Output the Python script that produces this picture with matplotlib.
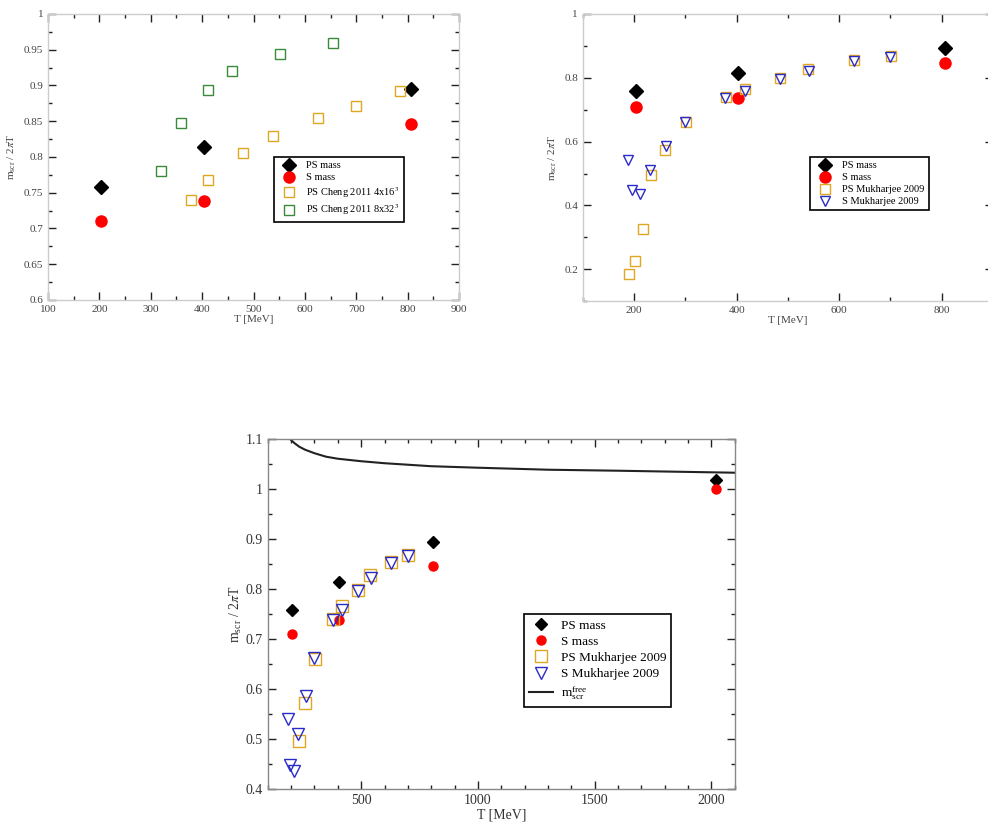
import matplotlib.pyplot as plt
from matplotlib.ticker import MultipleLocator

plt.rcParams['font.family'] = ['Liberation Serif', 'DejaVu Serif']
plt.rcParams['mathtext.fontset'] = 'stix'

# our screening masses (PS / S channel), T in MeV
ps_T = [203, 403, 806, 2018]
ps_m = [0.758, 0.814, 0.895, 1.019]
s_T = [203, 403, 806, 2018]
s_m = [0.710, 0.738, 0.846, 1.000]

# Cheng 2011, two lattice sizes
cheng4_T = [379, 412, 480, 537, 625, 700, 786]
cheng4_m = [0.740, 0.768, 0.805, 0.829, 0.854, 0.872, 0.892]
cheng8_T = [320, 359, 412, 459, 552, 654]
cheng8_m = [0.780, 0.848, 0.893, 0.920, 0.944, 0.960]

# Mukharjee 2009
mukps_T = [190, 201, 217, 233, 260, 302, 380, 416, 485, 540, 629, 702]
mukps_m = [0.185, 0.225, 0.327, 0.496, 0.573, 0.661, 0.740, 0.766, 0.799, 0.829, 0.855, 0.869]
muks_T = [188, 196, 211, 230, 262, 300, 378, 416, 485, 541, 629, 700]
muks_m = [0.541, 0.449, 0.436, 0.510, 0.587, 0.662, 0.738, 0.758, 0.797, 0.822, 0.853, 0.866]

# free screening mass curve
free_T = [196, 215, 235, 260, 300, 350, 400, 500, 600, 800, 1000, 1300, 1600, 2100]
free_m = [1.100, 1.092, 1.085, 1.079, 1.072, 1.065, 1.061, 1.056, 1.052, 1.046, 1.043, 1.039, 1.037, 1.033]

orange = '#e0a820'
green = '#3a8a3a'
blue = '#2a2ac8'
ylab = r'$\mathregular{m_{scr}}$ / 2$\pi$T'


def style(ax, size, spine, label_color):
    ax.tick_params(which='both', direction='in', top=True, right=True,
                   labelsize=size, labelcolor=label_color, color='#222222')
    ax.tick_params(which='major', length=6, width=1)
    ax.tick_params(which='minor', length=3, width=1)
    for s in ax.spines.values():
        s.set_color(spine)
        s.set_linewidth(1)


def legend(ax, x, y, size, spacing, hlen, hpad):
    leg = ax.legend(loc='upper left', bbox_to_anchor=(x, y), borderaxespad=0,
                    fancybox=False, edgecolor='black', framealpha=1, fontsize=size,
                    labelspacing=spacing, handletextpad=hpad, borderpad=0.4,
                    handlelength=hlen)
    leg.get_frame().set_linewidth(1.2)
    return leg


fig = plt.figure(figsize=(9.88, 8.23), dpi=100)

# ---- top left: comparison with Cheng 2011
ax1 = fig.add_axes([0.0486, 0.6355, 0.416, 0.3475])
ax1.plot(ps_T, ps_m, 'D', color='black', ms=7, label='PS mass')
ax1.plot(s_T, s_m, 'o', color='red', ms=8, label='S mass')
ax1.plot(cheng4_T, cheng4_m, 's', mfc='none', mec=orange, ms=7, mew=1, label=r'PS Cheng 2011 4x16$^3$')
ax1.plot(cheng8_T, cheng8_m, 's', mfc='none', mec=green, ms=7, mew=1, label=r'PS Cheng 2011 8x32$^3$')
ax1.set_xlim(100, 900)
ax1.set_ylim(0.6, 1.0)
ax1.xaxis.set_major_locator(MultipleLocator(100))
ax1.xaxis.set_minor_locator(MultipleLocator(50))
ax1.yaxis.set_minor_locator(MultipleLocator(0.025))
ax1.set_yticks([0.6, 0.65, 0.7, 0.75, 0.8, 0.85, 0.9, 0.95, 1.0])
ax1.set_yticklabels(['0.6', '0.65', '0.7', '0.75', '0.8', '0.85', '0.9', '0.95', '1'])
style(ax1, 8, '#cccccc', '#444444')
ax1.set_xlabel('T [MeV]', fontsize=8, color='#444444', labelpad=1)
ax1.set_ylabel(ylab, fontsize=8, color='#444444', labelpad=4)
legend(ax1, 0.55, 0.5, 7.5, 0.25, 2.0, 0.7)

# ---- top right: comparison with Mukharjee 2009 (right edge cut by the page)
ax2 = fig.add_axes([0.590, 0.634, 0.415, 0.349])
ax2.plot(ps_T, ps_m, 'D', color='black', ms=7, label='PS mass')
ax2.plot(s_T, s_m, 'o', color='red', ms=8, label='S mass')
ax2.plot(mukps_T, mukps_m, 's', mfc='none', mec=orange, ms=7, mew=1, label='PS Mukharjee 2009')
ax2.plot(muks_T, muks_m, 'v', mfc='none', mec=blue, ms=7, mew=1, label='S Mukharjee 2009')
ax2.set_xlim(100, 900)
ax2.set_ylim(0.1, 1.0)
ax2.set_xticks([200, 400, 600, 800])
ax2.xaxis.set_minor_locator(MultipleLocator(100))
ax2.set_yticks([0.2, 0.4, 0.6, 0.8, 1.0])
ax2.set_yticklabels(['0.2', '0.4', '0.6', '0.8', '1'])
ax2.yaxis.set_minor_locator(MultipleLocator(0.1))
style(ax2, 8, '#cccccc', '#444444')
ax2.set_xlabel('T [MeV]', fontsize=8, color='#444444', labelpad=1)
ax2.set_ylabel(ylab, fontsize=8, color='#444444', labelpad=4)
legend(ax2, 0.554, 0.502, 7.5, 0.25, 2.0, 0.7)

# ---- bottom: full range with free curve
ax3 = fig.add_axes([0.271, 0.0413, 0.4727, 0.425])
ax3.plot(ps_T, ps_m, 'D', color='black', ms=6, label='PS mass')
ax3.plot(s_T, s_m, 'o', color='red', ms=6.5, label='S mass')
ax3.plot(mukps_T, mukps_m, 's', mfc='none', mec=orange, ms=8, mew=1, label='PS Mukharjee 2009')
ax3.plot(muks_T, muks_m, 'v', mfc='none', mec=blue, ms=8, mew=1, label='S Mukharjee 2009')
ax3.plot(free_T, free_m, '-', color='#222222', lw=1.5, label=r'$\mathregular{m^{free}_{scr}}$')
ax3.set_xlim(100, 2100)
ax3.set_ylim(0.4, 1.1)
ax3.xaxis.set_major_locator(MultipleLocator(500))
ax3.xaxis.set_minor_locator(MultipleLocator(100))
ax3.set_yticks([0.4, 0.5, 0.6, 0.7, 0.8, 0.9, 1.0, 1.1])
ax3.set_yticklabels(['0.4', '0.5', '0.6', '0.7', '0.8', '0.9', '1', '1.1'])
ax3.yaxis.set_minor_locator(MultipleLocator(0.05))
style(ax3, 10, '#888888', '#333333')
ax3.set_xlabel('T [MeV]', fontsize=10, color='#333333', labelpad=1)
ax3.set_ylabel(ylab, fontsize=10, color='#333333', labelpad=1)
legend(ax3, 0.548, 0.5, 9.5, 0.3, 1.8, 0.6)

fig.savefig('out.png', dpi=100)
